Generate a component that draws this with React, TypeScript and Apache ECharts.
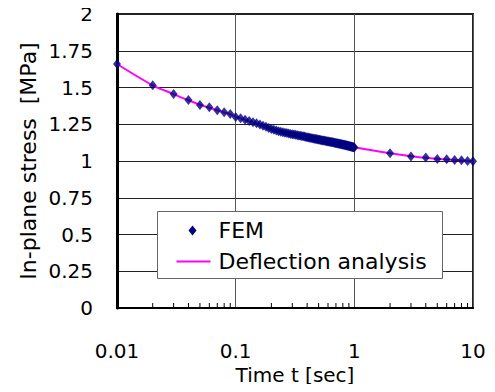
import React, { useEffect, useRef } from "react";
import * as echarts from "echarts";

const femTime = [
  0.01, 0.02, 0.03, 0.04, 0.05, 0.06, 0.07, 0.08, 0.09,
  0.10, 0.11, 0.12, 0.13, 0.14, 0.15, 0.16, 0.17, 0.18, 0.19,
  0.20, 0.21, 0.22, 0.23, 0.24, 0.25, 0.26, 0.27, 0.28, 0.29,
  0.30, 0.31, 0.32, 0.33, 0.34, 0.35, 0.36, 0.37, 0.38, 0.39,
  0.40, 0.41, 0.42, 0.43, 0.44, 0.45, 0.46, 0.47, 0.48, 0.49,
  0.50, 0.51, 0.52, 0.53, 0.54, 0.55, 0.56, 0.57, 0.58, 0.59,
  0.60, 0.61, 0.62, 0.63, 0.64, 0.65, 0.66, 0.67, 0.68, 0.69,
  0.70, 0.71, 0.72, 0.73, 0.74, 0.75, 0.76, 0.77, 0.78, 0.79,
  0.80, 0.81, 0.82, 0.83, 0.84, 0.85, 0.86, 0.87, 0.88, 0.89,
  0.90, 0.91, 0.92, 0.93, 0.94, 0.95, 0.96, 0.97, 0.98, 0.99,
  1.0, 2, 3, 4, 5, 6, 7, 8, 9, 10,
];
const femStress = [
  1.66, 1.515, 1.456, 1.415, 1.381, 1.365, 1.345, 1.331, 1.32,
  1.300, 1.290, 1.281, 1.272, 1.264, 1.256, 1.248, 1.240, 1.233, 1.225,
  1.217, 1.212, 1.207, 1.203, 1.199, 1.196, 1.193, 1.190, 1.187, 1.184,
  1.182, 1.180, 1.178, 1.176, 1.174, 1.172, 1.170, 1.168, 1.166, 1.164,
  1.162, 1.160, 1.158, 1.157, 1.155, 1.153, 1.152, 1.150, 1.149, 1.147,
  1.146, 1.144, 1.143, 1.142, 1.140, 1.139, 1.138, 1.137, 1.135, 1.134,
  1.133, 1.132, 1.131, 1.130, 1.129, 1.128, 1.127, 1.126, 1.124, 1.123,
  1.122, 1.121, 1.120, 1.119, 1.118, 1.117, 1.116, 1.115, 1.114, 1.113,
  1.112, 1.111, 1.110, 1.109, 1.108, 1.107, 1.106, 1.105, 1.104, 1.103,
  1.102, 1.101, 1.100, 1.099, 1.098, 1.097, 1.096, 1.095, 1.094, 1.093,
  1.092, 1.052, 1.03, 1.023, 1.014, 1.012, 1.006, 1.005, 1.0, 0.998,
];

const lineTime = [
  0.01, 0.02, 0.03, 0.04, 0.05, 0.06, 0.07, 0.08, 0.09,
  0.1, 0.2, 0.3, 0.4, 0.5, 0.6, 0.7, 0.8, 0.9,
  1, 2, 3, 4, 5, 6, 7, 8, 9, 10,
];
const lineStress = [
  1.66, 1.515, 1.455, 1.413, 1.383, 1.362, 1.345, 1.331, 1.318,
  1.302, 1.218, 1.181, 1.161, 1.146, 1.133, 1.122, 1.112, 1.102,
  1.093, 1.052, 1.033, 1.022, 1.015, 1.01, 1.006, 1.003, 1.0, 0.998,
];

const minorTicks = [
  0.02, 0.03, 0.04, 0.05, 0.06, 0.07, 0.08, 0.09,
  0.2, 0.3, 0.4, 0.5, 0.6, 0.7, 0.8, 0.9,
  2, 3, 4, 5, 6, 7, 8, 9,
];

const legendNames = ["FEM", "Deflection analysis"];
const FEM_COLOR = "#000080";
const LINE_COLOR = "#ff00ff";
const FONT = "'DejaVu Sans', Verdana, sans-serif";

export default function App() {
  const ref = useRef<HTMLDivElement>(null);
  useEffect(() => {
    if (!ref.current) return;
    const chart = echarts.init(ref.current, undefined, { renderer: "svg" });
    chart.setOption({
      animation: false,
      backgroundColor: "#fff",
      textStyle: { fontFamily: FONT },
      grid: {
        left: 117,
        right: 22,
        top: 14,
        bottom: 84,
        show: true,
        borderColor: "#222",
        borderWidth: 2,
        backgroundColor: "transparent",
      },
      xAxis: {
        type: "log",
        logBase: 10,
        min: 0.01,
        max: 10,
        name: "Time t [sec]",
        nameLocation: "middle",
        nameGap: 57,
        nameMoveOverlap: false,
        nameTextStyle: { fontSize: 20, color: "#000", fontFamily: FONT },
        axisLine: { show: true, lineStyle: { color: "#000", width: 2 } },
        axisTick: { show: false },
        axisLabel: {
          fontSize: 20,
          color: "#000",
          margin: 33,
          fontFamily: FONT,
          formatter: (v: number) => String(+v.toPrecision(3)),
        },
        splitLine: { show: true, lineStyle: { color: "#555", width: 1 } },
        minorTick: { show: false },
        minorSplitLine: { show: false },
      },
      yAxis: {
        type: "value",
        min: 0,
        max: 2,
        interval: 0.25,
        name: "In-plane stress  [MPa]",
        nameLocation: "middle",
        nameGap: 78,
        nameMoveOverlap: false,
        nameTextStyle: { fontSize: 22, color: "#000", fontFamily: FONT },
        axisLine: { show: true, lineStyle: { color: "#000", width: 3 } },
        axisTick: { show: false },
        axisLabel: { fontSize: 20, color: "#000", margin: 24, fontFamily: FONT },
        splitLine: { show: true, lineStyle: { color: "#222", width: 1 } },
      },
      graphic: [
        {
          type: "group",
          left: 157,
          top: 211,
          z: 100,
          children: [
            {
              type: "rect",
              z: 100,
              shape: { x: 0, y: 0, width: 285, height: 67 },
              style: { fill: "#fff", stroke: "#666", lineWidth: 1 },
            },
            {
              type: "polygon",
              z: 101,
              shape: { points: [[35, 14], [39, 19], [35, 24], [31, 19]] },
              style: { fill: FEM_COLOR },
            },
            {
              type: "text",
              z: 101,
              x: 61,
              y: 19,
              style: {
                text: legendNames[0],
                fontSize: 22,
                fontFamily: FONT,
                fill: "#000",
                verticalAlign: "middle",
              },
            },
            {
              type: "line",
              z: 101,
              shape: { x1: 19, y1: 50, x2: 53, y2: 50 },
              style: { stroke: LINE_COLOR, lineWidth: 2 },
            },
            {
              type: "text",
              z: 101,
              x: 61,
              y: 50,
              style: {
                text: legendNames[1],
                fontSize: 22,
                fontFamily: FONT,
                fill: "#000",
                verticalAlign: "middle",
              },
            },
          ],
        },
      ],
      series: [
        {
          name: legendNames[1],
          type: "line",
          data: lineTime.map((t, i) => [t, lineStress[i]]),
          smooth: 0.3,
          symbol: "none",
          lineStyle: { color: LINE_COLOR, width: 2 },
          itemStyle: { color: LINE_COLOR },
          z: 2,
        },
        {
          name: legendNames[0],
          type: "scatter",
          data: femTime.map((t, i) => [t, femStress[i]]),
          symbol: "diamond",
          symbolSize: [8, 10],
          itemStyle: { color: FEM_COLOR },
          z: 3,
        },
        {
          name: "minorTicks",
          type: "custom",
          silent: true,
          data: minorTicks.map((t) => [t, 0]),
          renderItem: (params: any, api: any) => {
            const p = api.coord([api.value(0), 0]);
            return {
              type: "line",
              shape: { x1: p[0], y1: p[1], x2: p[0], y2: p[1] - 5 },
              style: { stroke: "#000", lineWidth: 1 },
            };
          },
          z: 4,
        },
      ],
    });
    return () => chart.dispose();
  }, []);
  return <div ref={ref} style={{ width: 495, height: 392, margin: -8 }} />;
}
